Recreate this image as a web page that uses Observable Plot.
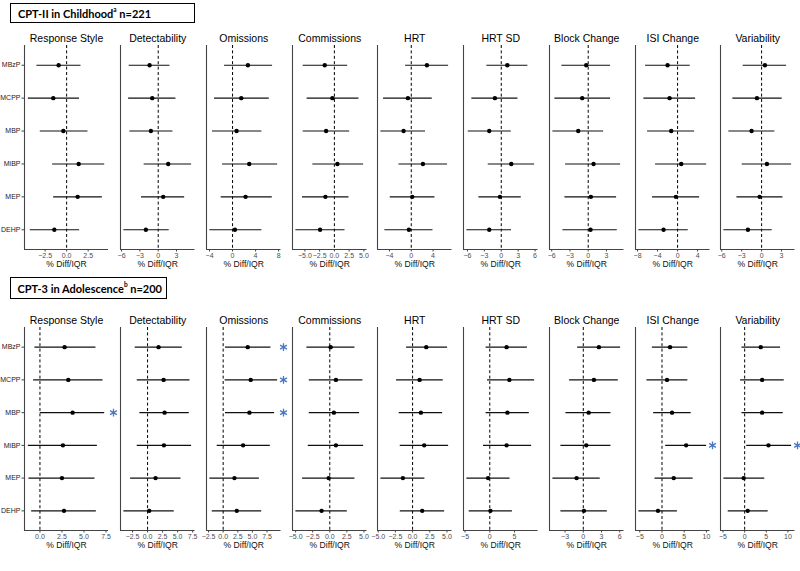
<!DOCTYPE html>
<html>
<head>
<meta charset="utf-8">
<script src="https://cdn.jsdelivr.net/npm/d3@7"></script>
<script src="https://cdn.jsdelivr.net/npm/@observablehq/plot@0.6"></script>
<style>
  body { margin: 0; background: #fff; }
  #root { position: relative; width: 800px; height: 571px; overflow: hidden; background: #fff; font-family: "Liberation Sans", Arial, sans-serif; }
  .box { position: absolute; box-sizing: border-box; border: 1px solid #000; font-family: Lato, "Open Sans", sans-serif; font-weight: bold; font-size: 11px; color: #000; display: flex; align-items: center; padding-left: 7px; white-space: nowrap; }
  .box sup { font-size: 6.5px; position: relative; top: -1px; }
  .panel { position: absolute; }
</style>
</head>
<body>
<div id="root"></div>
<script>
// ---------- data ----------
const compounds = ["MBzP", "MCPP", "MBP", "MiBP", "MEP", "DEHP"];
const outcomes = ["Response Style", "Detectability", "Omissions", "Commissions", "HRT", "HRT SD", "Block Change", "ISI Change", "Variability"];

// CPT-II in Childhood (rows: outcomes, columns: compounds)
const childEst = [
  [-0.93, -1.55, -0.38, 1.40, 1.28, -1.43],
  [-1.41, -0.98, -1.20, 1.64, 0.82, -2.02],
  [2.67, 1.51, 0.70, 2.90, 2.26, 0.41],
  [-1.63, -0.34, -1.40, 0.51, -1.52, -2.42],
  [2.87, -0.61, -1.41, 2.14, 0.18, -0.43],
  [1.07, -1.13, -2.13, 1.78, -0.24, -2.13],
  [-0.33, -0.99, -1.64, 0.88, 0.44, 0.38],
  [-2.00, -1.60, -1.27, 0.73, -0.33, -2.80],
  [0.50, -0.70, -1.51, 0.80, -0.30, -2.06]
];
const childLo = [
  [-3.45, -4.45, -3.06, -1.63, -1.51, -4.22],
  [-4.75, -4.85, -4.64, -2.30, -2.73, -5.62],
  [-1.39, -3.13, -3.48, -1.74, -1.97, -3.94],
  [-5.28, -4.61, -5.28, -3.65, -5.40, -6.52],
  [-1.04, -5.08, -5.57, -2.26, -3.85, -4.83],
  [-2.55, -5.22, -5.86, -2.31, -3.97, -6.10],
  [-4.33, -5.48, -5.81, -3.72, -3.83, -4.16],
  [-6.40, -6.73, -6.00, -4.40, -5.00, -7.73],
  [-2.77, -4.33, -4.93, -2.92, -3.72, -5.68]
];
const childHi = [
  [1.67, 1.50, 2.48, 4.42, 4.15, 1.51],
  [1.92, 2.90, 2.41, 5.47, 4.33, 1.80],
  [6.96, 6.38, 5.10, 7.83, 6.90, 5.10],
  [2.25, 4.16, 2.59, 4.95, 2.47, 1.80],
  [6.85, 3.85, 2.62, 6.66, 4.34, 3.98],
  [4.73, 2.96, 1.78, 5.92, 3.55, 1.83],
  [3.68, 3.68, 2.53, 5.33, 4.67, 4.78],
  [2.53, 3.60, 3.40, 5.80, 4.40, 2.13],
  [3.77, 3.10, 2.00, 4.52, 3.22, 1.60]
];
const childTicks = [
  [-2.5, 0, 2.5], [-6, -3, 0, 3], [-4, 0, 4, 8], [-5, -2.5, 0, 2.5, 5], [-4, 0, 4],
  [-6, -3, 0, 3, 6], [-6, -3, 0, 3], [-8, -4, 0, 4], [-6, -3, 0, 3]
];

// CPT-3 in Adolescence
const adolEst = [
  [2.80, 3.22, 3.71, 2.61, 2.50, 2.73],
  [1.83, 2.67, 2.83, 2.72, 1.33, 0.28],
  [4.20, 4.71, 4.49, 3.41, 1.93, 2.33],
  [0.12, 0.90, 0.60, 0.90, -0.17, -1.20],
  [1.99, 1.02, 1.21, 1.69, -1.41, 1.40],
  [3.40, 3.96, 3.56, 3.40, -0.34, 0.13],
  [2.57, 1.75, 0.88, 0.49, -1.10, 0.11],
  [1.81, 1.13, 2.26, 5.43, 2.64, -0.90],
  [3.72, 4.04, 4.04, 5.50, -0.23, 0.70]
];
const adolLo = [
  [-0.57, -0.72, 0.04, -1.32, -1.25, -0.94],
  [-2.06, -1.72, -1.28, -1.72, -2.83, -3.94],
  [0.40, 0.34, 0.40, -1.02, -2.27, -1.87],
  [-3.35, -3.00, -3.00, -3.15, -3.98, -4.96],
  [-0.87, -2.33, -1.94, -1.79, -4.61, -1.79],
  [-0.74, -0.46, -0.74, -1.27, -4.63, -4.16],
  [-0.93, -2.25, -2.85, -3.68, -5.00, -3.68],
  [-2.17, -3.39, -1.88, 0.83, -1.58, -5.20],
  [-0.62, -0.93, -0.62, 0.47, -4.80, -3.80]
];
const adolHi = [
  [6.36, 7.16, 7.35, 6.52, 6.25, 6.40],
  [5.78, 7.06, 6.94, 7.33, 5.56, 4.44],
  [8.17, 9.31, 8.80, 8.06, 6.19, 6.59],
  [3.68, 4.85, 4.36, 4.95, 3.68, 2.56],
  [5.09, 4.46, 4.37, 5.24, 1.79, 4.66],
  [7.60, 9.06, 7.99, 8.45, 4.09, 4.57],
  [6.14, 5.75, 4.55, 4.55, 2.79, 3.95],
  [5.81, 5.81, 6.56, 10.04, 7.01, 3.47],
  [8.30, 9.15, 8.92, 10.85, 4.65, 5.43]
];
const adolTicks = [
  [0, 2.5, 5, 7.5], [-2.5, 0, 2.5, 5, 7.5], [-2.5, 0, 2.5, 5, 7.5], [-5, -2.5, 0, 2.5, 5], [-5, -2.5, 0, 2.5, 5],
  [-5, 0, 5], [-3, 0, 3, 6], [-5, 0, 5, 10], [-5, 0, 5, 10]
];
// significant results: [outcome index, compound index]
const adolStars = [[0, 2], [2, 0], [2, 1], [2, 2], [7, 3], [8, 3]];

const titles = [
  {html: "<span>CPT-II in Childhood<sup>a</sup>&nbsp;n=221</span>"},
  {html: "<span>CPT-3 in Adolescence<sup>b</sup>&nbsp;n=200</span>"}
];

// ---------- layout ----------
const root = document.getElementById("root");
const panelLefts = [24, 120, 205.8, 291.5, 377.3, 463.1, 548.8, 634.6, 720.4];
const panelWidths = [84, 74.5, 74.5, 74.5, 74.5, 74.5, 74.5, 74.5, 74.5];
const rows = [
  {est: childEst, lo: childLo, hi: childHi, ticks: childTicks, stars: [], frameTop: 44.5, frameH: 204,
   box: {left: 10, top: 3, width: 185, height: 20}},
  {est: adolEst, lo: adolLo, hi: adolHi, ticks: adolTicks, stars: adolStars, frameTop: 327, frameH: 203,
   box: {left: 9.5, top: 277, width: 157, height: 22}}
];

const mT = 20, mB = 26, mR = 12;
const fmtTick = (ticks) => ticks.some(t => !Number.isInteger(t)) ? d3.format(".1f") : d3.format("d");

rows.forEach((r, ri) => {
  const b = document.createElement("div");
  b.className = "box";
  Object.assign(b.style, {left: r.box.left + "px", top: r.box.top + "px", width: r.box.width + "px", height: r.box.height + "px"});
  b.innerHTML = titles[ri].html;
  root.appendChild(b);

  outcomes.forEach((name, j) => {
    const data = compounds.map((c, i) => ({i, c, est: r.est[j][i], lo: r.lo[j][i], hi: r.hi[j][i]}));
    const mn = d3.min(data, d => d.lo), mx = d3.max(data, d => d.hi);
    const pad = (mx - mn) * 0.05;
    const dom = [mn - pad, mx + pad];
    const mL = j === 0 ? 24 : 2;
    const stars = r.stars.filter(s => s[0] === j).map(s => ({i: s[1]}));
    const ticks = r.ticks[j];
    const marks = [
      Plot.ruleX([0], {stroke: "#000", strokeWidth: 1, strokeDasharray: "3,2.4"}),
      Plot.ruleY(data, {y: "i", x1: "lo", x2: "hi", stroke: "#111", strokeWidth: 1.05}),
      Plot.dot(data, {x: "est", y: "i", r: 2.2, fill: "#000", stroke: null}),
      Plot.ruleX([dom[0]], {stroke: "#444", strokeWidth: 1.1}),
      Plot.ruleY([5.6], {stroke: "#444", strokeWidth: 1.1}),
      Plot.axisX({ticks, tickFormat: fmtTick(ticks), tickSize: 2.5, tickPadding: 1.5, fontSize: 7, stroke: "#444", fill: "#4d4d4d", label: null}),
      Plot.text([name], {text: d => d, frameAnchor: "top", dy: -10.5, fontSize: 10.5, fill: "#000"}),
      Plot.text(["% Diff/IQR"], {text: d => d, frameAnchor: "bottom", dy: 17.5, fontSize: 8.6, fill: "#111"}),
      Plot.dot(stars, {y: "i", frameAnchor: "right", dx: j === 0 ? 5 : 2.5, symbol: "asterisk", r: 3.7, stroke: "#4a76c6", strokeWidth: 1.3})
    ];
    if (j === 0) {
      marks.push(Plot.axisY({ticks: d3.range(compounds.length), tickFormat: i => compounds[i], tickSize: 2.5, tickPadding: 1.5, fontSize: 7, stroke: "#444", fill: "#222", label: null}));
    }
    const w = mL + panelWidths[j] + mR;
    const h = mT + r.frameH + mB;
    const chart = Plot.plot({
      width: w, height: h,
      marginLeft: mL, marginRight: mR, marginTop: mT, marginBottom: mB,
      style: {background: "transparent", overflow: "visible", fontFamily: "Liberation Sans, Arial, sans-serif"},
      x: {domain: dom},
      y: {domain: [compounds.length - 0.4, -0.6], axis: j === 0 ? undefined : null},
      marks
    });
    chart.classList.add("panel");
    chart.style.left = (panelLefts[j] - mL) + "px";
    chart.style.top = (r.frameTop - mT) + "px";
    chart.style.position = "absolute";
    chart.style.maxWidth = "none";
    root.appendChild(chart);
  });
});
</script>
</body>
</html>
